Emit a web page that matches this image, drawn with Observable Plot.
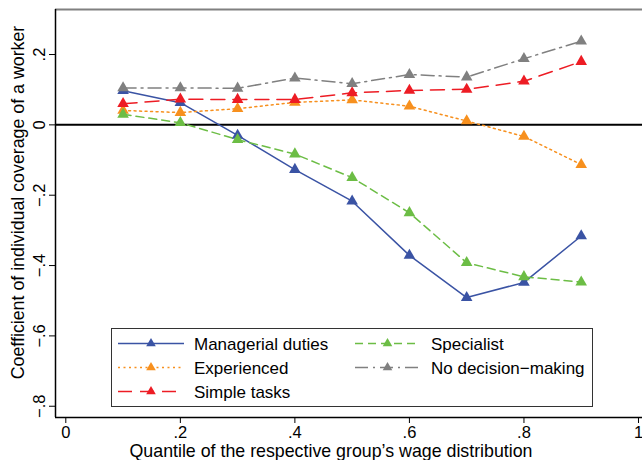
<!DOCTYPE html>
<html><head><meta charset="utf-8">
<script src="https://cdn.jsdelivr.net/npm/d3@7"></script>
<script src="https://cdn.jsdelivr.net/npm/@observablehq/plot@0.6"></script>
<style>
body{margin:0;background:#fff;}
#wrap{position:relative;width:642px;height:460px;overflow:hidden;font-family:"Liberation Sans",Arial,sans-serif;}
#legend{position:absolute;left:110.5px;top:327.5px;}
</style></head><body><div id="wrap"></div>
<script>
const quantiles = [0.1, 0.2, 0.3, 0.4, 0.5, 0.6, 0.7, 0.8, 0.9];
const managerial = [0.097, 0.063, -0.030, -0.127, -0.217, -0.371, -0.491, -0.448, -0.316];
const experienced = [0.041, 0.035, 0.046, 0.064, 0.071, 0.053, 0.011, -0.033, -0.113];
const simpleTasks = [0.060, 0.073, 0.072, 0.072, 0.091, 0.098, 0.101, 0.124, 0.180];
const specialist = [0.030, 0.006, -0.042, -0.083, -0.150, -0.250, -0.392, -0.432, -0.447];
const noDecision = [0.105, 0.105, 0.104, 0.133, 0.117, 0.143, 0.136, 0.188, 0.238];
const seriesNames = ["Managerial duties", "Experienced", "Simple tasks", "Specialist", "No decision\u2212making"];
const xTicks = [0, 0.2, 0.4, 0.6, 0.8, 1];
const yTicks = [-0.8, -0.6, -0.4, -0.2, 0, 0.2];
const xTitle = "Quantile of the respective group\u2019s wage distribution";
const yTitle = "Coefficient of individual coverage of a worker";

const seriesValues = [managerial, experienced, simpleTasks, specialist, noDecision];
const colors = ["#3a53a4", "#f7901e", "#ed1c24", "#6cbd45", "#808080"];
const dashes = ["none", "2,3.5", "14,8", "8,5", "13,5,2,5"];

const series = seriesNames.map((name, i) => ({
  name, color: colors[i], dash: dashes[i],
  data: quantiles.map((q, j) => ({q, v: seriesValues[i][j]}))
}));

const fmt = d => {
  if (d === 0) return "0";
  if (d === 1) return "1";
  let s = d3.format(".1f")(Math.abs(d)).replace(/^0/, "");
  return (d < 0 ? "\u2212" : "") + s;
};

const xDomain = [-0.018, 1.007];
const yDomain = [-0.832, 0.328];

const marks = [
  Plot.ruleY([0], {stroke: "#000", strokeWidth: 2}),
];
for (const s of series) {
  marks.push(Plot.line(s.data, {x: "q", y: "v", stroke: s.color, strokeWidth: 1.5, strokeDasharray: s.dash}));
}
for (const s of series) {
  marks.push(Plot.dot(s.data, {x: "q", y: "v", symbol: "triangle", r: 4.3, fill: s.color, stroke: "none"}));
}
marks.push(
  Plot.ruleY([yDomain[1]], {stroke: "#808080", strokeWidth: 2}),
  Plot.ruleX([xDomain[0]], {stroke: "#000", strokeWidth: 1.5}),
  Plot.ruleY([yDomain[0]], {stroke: "#000", strokeWidth: 1.5}),
  Plot.axisX(xTicks, {tickSize: 6, tickPadding: 3, tickFormat: fmt, label: null, fontSize: 16.5, stroke: "#000", fill: "#000"}),
  Plot.axisY(yTicks, {tickSize: 6, tickPadding: 5, tickFormat: fmt, tickRotate: -90, label: null, fontSize: 16.5, stroke: "#000", fill: "#000"}),
  Plot.text([xTitle], {text: d => d, frameAnchor: "bottom", textAnchor: "middle", lineAnchor: "middle", dx: -18, dy: 34, fontSize: 17.8, fill: "#000"}),
  Plot.text([yTitle], {text: d => d, frameAnchor: "left", textAnchor: "middle", lineAnchor: "middle", dx: -37, dy: -11, rotate: -90, fontSize: 17.8, fill: "#000"})
);

const chart = Plot.plot({
  width: 642, height: 460,
  marginLeft: 55, marginRight: 0, marginTop: 9, marginBottom: 43,
  style: {fontFamily: "'Liberation Sans', Arial, sans-serif", fontSize: "16.5px", background: "#fff", color: "#000", overflow: "visible"},
  x: {domain: xDomain, axis: null},
  y: {domain: yDomain, axis: null},
  marks
});
document.getElementById("wrap").appendChild(chart);

// legend
const lg = d3.select("#wrap").append("div").attr("id", "legend");
const svg = lg.append("svg").attr("width", 483).attr("height", 79);
svg.append("rect").attr("x", 0.5).attr("y", 0.5).attr("width", 481).attr("height", 78)
  .attr("fill", "#fff").attr("stroke", "#333").attr("stroke-width", 1);
series.forEach((s, i) => {
  const col = i < 3 ? 0 : 1, row = i < 3 ? i : i - 3;
  const x0 = col ? 244 : 7, x1 = col ? 309 : 73, tx = col ? 320 : 83;
  const y = 15.5 + row * 24;
  svg.append("line").attr("x1", x0).attr("x2", x1).attr("y1", y).attr("y2", y)
    .attr("stroke", s.color).attr("stroke-width", 1.5).attr("stroke-dasharray", s.dash);
  const mx = (x0 + x1) / 2;
  svg.append("path").attr("d", d3.symbol(d3.symbolTriangle, 40)()).attr("transform", `translate(${mx},${y})`).attr("fill", s.color);
  svg.append("text").attr("x", tx).attr("y", y).attr("dy", "0.36em").attr("font-size", 17)
    .attr("font-family", "'Liberation Sans', Arial, sans-serif").attr("fill", "#000").text(s.name);
});
</script></body></html>
